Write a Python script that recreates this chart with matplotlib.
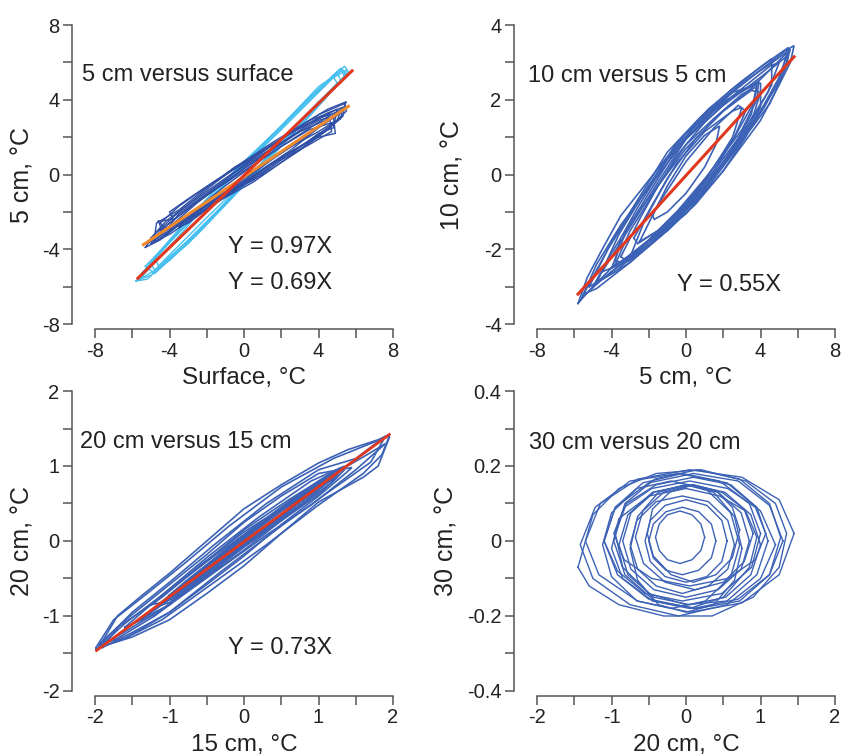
import matplotlib
matplotlib.use("Agg")
import matplotlib.pyplot as plt
from matplotlib.ticker import MultipleLocator, FuncFormatter

plt.rcParams["font.family"] = ["Liberation Sans", "DejaVu Sans"]
plt.rcParams["axes.unicode_minus"] = False

# ---- data (loop vertices, deg C) ----
# panel a: 5 cm versus surface
loops_5_surf_light = [
    [(-5.8, -5.7), (-4.5, -4.2), (-2.0, -1.5), (0.0, 0.5), (2.0, 2.4), (4.0, 4.4), (5.4, 5.8),
     (5.6, 5.5), (4.5, 4.3), (2.5, 2.2), (0.5, 0.0), (-1.5, -2.0), (-3.5, -4.0), (-5.2, -5.6)],
    [(-5.5, -5.3), (-4.0, -3.5), (-2.0, -1.3), (0.0, 0.7), (2.0, 2.6), (4.0, 4.7), (5.3, 5.6),
     (5.5, 5.3), (4.0, 3.9), (2.0, 1.8), (0.0, -0.4), (-2.0, -2.6), (-4.0, -4.6), (-5.4, -5.5)],
    [(-5.0, -4.8), (-3.0, -2.4), (-1.0, -0.3), (1.0, 1.6), (3.0, 3.6), (5.0, 5.5),
     (5.2, 5.0), (3.5, 3.1), (1.5, 1.0), (-0.5, -1.0), (-2.5, -3.1), (-4.8, -5.1)],
    [(-4.8, -4.4), (-2.5, -1.9), (0.0, 0.4), (2.5, 3.0), (4.8, 5.2),
     (5.0, 4.9), (2.8, 2.6), (0.5, 0.1), (-2.0, -2.3), (-4.6, -4.9)],
    [(-5.6, -5.6), (-3.5, -3.3), (-1.5, -1.0), (0.5, 1.0), (2.5, 3.1), (4.5, 5.0), (5.5, 5.6),
     (5.3, 5.1), (3.0, 2.6), (1.0, 0.5), (-1.0, -1.6), (-3.0, -3.7), (-5.0, -5.4)],
    [(-5.3, -4.9), (-3.0, -2.6), (-0.5, 0.1), (1.5, 2.1), (3.5, 4.1), (5.2, 5.7),
     (5.4, 5.2), (3.8, 3.5), (1.8, 1.3), (-0.2, -0.8), (-2.5, -3.2), (-4.8, -5.3)],
]
loops_5_surf_dark = [
    [(-5.3, -3.9), (-4.8, -3.2), (-3.5, -2.0), (-2.0, -0.9), (0.0, 0.5), (2.0, 1.9), (4.0, 3.2),
     (5.4, 3.8), (5.5, 3.4), (4.5, 2.4), (3.0, 1.3), (1.0, 0.0), (-1.0, -1.0), (-3.0, -2.3), (-4.5, -3.5)],
    [(-4.6, -2.5), (-3.8, -2.4), (-4.0, -2.0), (-3.0, -1.3), (-1.5, -0.3), (0.0, 0.6), (1.5, 1.6),
     (3.0, 2.5), (4.5, 3.3), (5.3, 3.6), (5.2, 3.0), (4.2, 2.2), (2.5, 1.0), (0.5, -0.4),
     (-1.5, -1.5), (-3.0, -2.4), (-4.4, -3.0)],
    [(-5.0, -3.7), (-4.0, -2.8), (-2.5, -1.5), (-1.0, -0.4), (0.5, 0.7), (2.0, 1.7), (3.5, 2.7),
     (5.0, 3.5), (4.8, 2.5), (4.0, 2.2), (2.5, 1.1), (0.8, 0.0), (-1.0, -1.2), (-2.5, -2.2), (-4.0, -3.2)],
    [(-4.5, -3.0), (-3.0, -1.8), (-1.5, -0.7), (0.0, 0.3), (1.5, 1.3), (3.0, 2.3), (4.6, 3.0),
     (4.7, 2.3), (3.5, 1.6), (2.0, 0.8), (0.5, -0.3), (-1.0, -1.1), (-2.5, -2.0), (-4.2, -3.2)],
    [(-5.2, -3.7), (-4.0, -2.6), (-2.0, -1.1), (0.0, 0.2), (2.0, 1.5), (4.0, 2.8), (5.4, 3.6),
     (5.3, 3.1), (4.0, 2.3), (2.0, 1.2), (0.0, -0.2), (-2.0, -1.6), (-4.0, -3.0)],
    [(-3.5, -2.8), (-2.5, -1.8), (-1.0, -0.6), (0.5, 0.5), (2.0, 1.5), (3.5, 2.4), (4.8, 2.8),
     (4.5, 2.4), (3.0, 1.5), (1.5, 0.6), (0.0, -0.5), (-1.5, -1.5), (-3.0, -2.6)],
    [(-4.5, -2.6), (-3.5, -1.7), (-2.5, -1.0), (-1.0, 0.0), (0.5, 0.9), (2.0, 1.9), (3.5, 2.9),
     (4.6, 3.3), (4.4, 2.8), (3.0, 1.8), (1.5, 0.8), (0.0, -0.3), (-1.5, -1.3), (-3.0, -2.2), (-4.2, -2.9)],
    [(-5.0, -3.4), (-4.2, -2.5), (-3.0, -1.6), (-1.5, -0.4), (0.0, 0.7), (1.5, 1.7), (3.0, 2.6),
     (4.5, 3.5), (5.5, 3.9), (5.2, 3.3), (4.0, 2.5), (2.5, 1.3), (1.0, 0.3), (-0.5, -0.8),
     (-2.0, -1.8), (-3.5, -2.7), (-4.8, -3.6)],
    [(-4.2, -3.0), (-3.5, -2.1), (-2.0, -1.0), (-0.5, 0.1), (1.0, 1.1), (2.5, 2.0), (4.0, 2.9),
     (4.8, 3.1), (4.9, 2.2), (4.0, 2.0), (2.8, 1.4), (1.2, 0.4), (-0.5, -0.7), (-2.0, -1.8), (-3.4, -2.7)],
    [(-4.8, -3.3), (-4.7, -2.6), (-3.5, -1.9), (-2.0, -0.7), (-0.5, 0.4), (1.0, 1.3), (2.5, 2.2),
     (4.0, 3.0), (5.2, 3.4), (5.0, 2.9), (3.8, 2.0), (2.2, 1.0), (0.5, -0.1), (-1.0, -1.0),
     (-2.8, -2.1), (-4.0, -2.9)],
]
fit_5_surf_steep_x = [-5.7, 5.8]
fit_5_surf_steep_y = [-5.55, 5.55]
fit_5_surf_flat_x = [-5.4, 5.6]
fit_5_surf_flat_y = [-3.75, 3.65]

# panel b: 10 cm versus 5 cm
loops_10_5 = [
    [(-5.8, -3.45), (-5.3, -2.75), (-4.5, -2.0), (-3.5, -1.1), (-2.0, -0.15), (0.0, 1.1), (2.0, 2.0),
     (4.0, 2.8), (5.3, 3.3), (5.8, 3.45), (5.6, 3.0), (5.0, 2.4), (4.0, 1.45), (2.0, 0.1), (0.0, -1.05),
     (-2.0, -1.8), (-4.0, -2.5), (-5.2, -3.1)],
    [(-5.6, -3.3), (-4.8, -2.4), (-3.5, -1.35), (-2.0, -0.35), (0.0, 0.95), (2.0, 1.85), (4.0, 2.6),
     (5.5, 3.2), (5.4, 2.9), (4.5, 1.9), (3.0, 0.9), (1.0, -0.3), (-1.0, -1.3), (-3.0, -2.2), (-4.5, -2.8)],
    [(-5.0, -3.0), (-4.0, -2.1), (-3.0, -1.3), (-1.5, -0.3), (0.0, 0.7), (2.0, 1.7), (3.5, 2.3),
     (5.5, 3.3), (5.0, 2.6), (4.0, 1.7), (2.5, 0.6), (0.5, -0.7), (-1.5, -1.6), (-3.5, -2.4)],
    [(-3.8, -2.3), (-3.5, -1.7), (-2.5, -0.8), (-1.0, 0.4), (0.5, 1.3), (2.0, 1.95), (3.5, 2.35),
     (4.0, 2.45), (4.0, 1.8), (3.2, 1.0), (2.0, 0.1), (0.5, -0.8), (-1.0, -1.5), (-2.5, -2.05), (-3.5, -2.35)],
    [(-3.5, -2.2), (-2.5, -1.2), (-1.5, -0.3), (0.0, 0.8), (1.5, 1.5), (3.0, 2.15), (3.8, 2.35),
     (3.5, 1.6), (2.5, 0.7), (1.0, -0.4), (-0.5, -1.2), (-2.0, -1.9), (-3.2, -2.3)],
    [(-2.8, -1.7), (-1.8, -0.8), (-0.5, 0.3), (1.0, 1.15), (2.5, 1.7), (3.0, 1.8),
     (2.5, 1.0), (1.5, 0.2), (0.0, -0.8), (-1.5, -1.5), (-2.6, -1.85)],
    [(-1.8, -1.1), (-1.0, -0.3), (0.0, 0.5), (1.0, 1.05), (1.8, 1.3),
     (1.6, 0.8), (1.0, 0.2), (0.0, -0.5), (-1.0, -1.0), (-1.7, -1.2)],
    [(-4.5, -2.6), (-3.0, -1.4), (-1.5, -0.2), (0.0, 0.95), (1.5, 1.7), (3.0, 2.3), (4.5, 2.9),
     (5.0, 3.0), (4.4, 2.2), (3.0, 1.1), (1.5, 0.1), (0.0, -0.85), (-1.5, -1.7), (-3.0, -2.3)],
    [(-3.8, -2.4), (-3.0, -1.5), (-2.0, -0.7), (-0.5, 0.5), (1.0, 1.4), (2.5, 2.1), (3.9, 2.5),
     (3.8, 2.0), (3.0, 1.2), (1.5, 0.2), (0.0, -0.8), (-1.5, -1.7), (-3.0, -2.25)],
    [(-5.5, -3.2), (-4.2, -2.0), (-2.8, -0.9), (-1.0, 0.45), (1.0, 1.6), (3.0, 2.45), (4.5, 2.95),
     (5.6, 3.35), (5.2, 2.7), (4.2, 1.8), (2.8, 0.75), (1.0, -0.45), (-1.0, -1.5), (-3.0, -2.35), (-4.8, -3.05)],
    [(-4.0, -2.5), (-3.2, -1.5), (-2.0, -0.5), (-0.5, 0.7), (1.0, 1.5), (2.5, 2.2), (3.8, 2.4),
     (3.6, 1.9), (2.6, 1.0), (1.2, 0.0), (-0.5, -1.0), (-2.0, -1.75), (-3.4, -2.3)],
    [(-3.0, -2.2), (-2.2, -1.2), (-1.0, -0.1), (0.5, 0.95), (2.0, 1.7), (3.5, 2.25), (4.0, 2.2),
     (3.5, 1.4), (2.2, 0.45), (0.8, -0.5), (-0.8, -1.4), (-2.2, -2.0)],
    [(-5.2, -3.0), (-4.0, -1.8), (-2.5, -0.6), (-1.0, 0.6), (0.8, 1.55), (2.5, 2.3), (4.2, 2.95),
     (5.5, 3.4), (5.0, 2.5), (3.6, 1.35), (2.0, 0.3), (0.2, -0.8), (-1.8, -1.7), (-3.8, -2.6)],
    [(-2.5, -1.8), (-1.5, -0.8), (0.0, 0.35), (1.5, 1.25), (2.8, 1.85),
     (3.2, 1.7), (2.6, 1.0), (1.5, 0.1), (0.0, -0.75), (-1.5, -1.5)],
    [(-4.8, -2.9), (-3.6, -1.6), (-2.2, -0.45), (-0.5, 0.85), (1.2, 1.75), (3.0, 2.5), (4.6, 3.1),
     (4.6, 2.4), (3.5, 1.4), (2.0, 0.35), (0.5, -0.6), (-1.2, -1.5), (-3.0, -2.35)],
]
fit_10_5_x = [-5.8, 5.8]
fit_10_5_y = [-3.2, 3.15]

# panel c: 20 cm versus 15 cm
loops_20_15 = [
    [(-1.95, -1.42), (-1.7, -1.0), (-1.4, -0.75), (-1.0, -0.43), (-0.5, 0.0), (0.0, 0.43), (0.5, 0.75),
     (1.0, 1.04), (1.4, 1.22), (1.8, 1.35), (1.95, 1.42), (1.95, 1.38), (1.8, 1.0), (1.6, 0.85),
     (1.0, 0.52), (0.5, 0.1), (0.0, -0.33), (-0.5, -0.7), (-1.0, -1.05), (-1.5, -1.28)],
    [(-1.9, -1.42), (-1.65, -1.1), (-1.0, -0.58), (-0.5, -0.18), (0.0, 0.25), (0.5, 0.6), (1.0, 0.9),
     (1.45, 0.98), (1.3, 0.85), (1.0, 0.6), (0.5, 0.22), (0.0, -0.2), (-0.5, -0.58), (-1.0, -0.95), (-1.5, -1.22)],
    [(-1.95, -1.38), (-1.7, -1.15), (-1.2, -0.82), (-0.6, -0.35), (0.0, 0.15), (0.6, 0.55), (1.2, 0.92),
     (1.35, 0.95), (1.2, 0.8), (0.6, 0.35), (0.0, -0.12), (-0.6, -0.55), (-1.2, -1.0), (-1.7, -1.3)],
    [(-1.25, -0.85), (-1.1, -0.75), (-0.6, -0.33), (0.0, 0.12), (0.6, 0.5), (1.05, 0.82), (1.2, 0.9),
     (1.25, 0.85), (1.0, 0.62), (0.5, 0.27), (0.0, -0.08), (-0.6, -0.52), (-1.1, -0.82)],
    [(-1.4, -1.05), (-1.0, -0.78), (-0.5, -0.38), (0.0, 0.02), (0.5, 0.4), (1.0, 0.72), (1.25, 0.85),
     (1.1, 0.72), (0.5, 0.3), (0.0, -0.05), (-0.5, -0.45), (-1.0, -0.85)],
    [(-1.1, -0.85), (-0.5, -0.32), (0.0, 0.08), (0.5, 0.45), (1.1, 0.85), (1.2, 0.9),
     (1.0, 0.7), (0.5, 0.33), (0.0, -0.04), (-0.5, -0.42), (-1.0, -0.82)],
    [(-1.0, -0.75), (-0.5, -0.35), (0.0, 0.03), (0.5, 0.4), (1.0, 0.76),
     (0.9, 0.66), (0.5, 0.34), (0.0, -0.02), (-0.5, -0.4), (-0.9, -0.7)],
    [(-1.0, -0.72), (-0.6, -0.4), (0.0, 0.05), (0.6, 0.47), (1.1, 0.83),
     (1.0, 0.75), (0.6, 0.42), (0.0, 0.0), (-0.6, -0.46), (-0.95, -0.72)],
    [(-0.8, -0.6), (-0.3, -0.2), (0.2, 0.19), (0.7, 0.55), (0.95, 0.72),
     (0.7, 0.5), (0.2, 0.13), (-0.3, -0.26), (-0.75, -0.6)],
    [(-1.3, -0.98), (-0.8, -0.55), (-0.2, -0.08), (0.4, 0.37), (1.0, 0.8), (1.3, 0.98),
     (1.2, 0.85), (0.6, 0.42), (0.0, -0.02), (-0.6, -0.48), (-1.2, -0.92)],
    [(-2.0, -1.44), (-1.75, -1.05), (-1.3, -0.7), (-0.8, -0.3), (-0.2, 0.2), (0.5, 0.72), (1.2, 1.1),
     (1.7, 1.3), (1.95, 1.4), (1.85, 1.15), (1.6, 0.9), (1.0, 0.48), (0.3, -0.05), (-0.4, -0.55),
     (-1.1, -1.05), (-1.6, -1.3)],
    [(-1.9, -1.35), (-1.5, -0.95), (-1.0, -0.55), (-0.4, -0.05), (0.3, 0.5), (1.0, 0.95), (1.5, 1.1),
     (1.9, 1.4), (1.7, 1.05), (1.2, 0.7), (0.5, 0.2), (-0.3, -0.4), (-1.0, -0.95), (-1.6, -1.3)],
    [(-1.2, -0.9), (-0.7, -0.48), (0.0, 0.08), (0.7, 0.6), (1.2, 0.9),
     (1.1, 0.78), (0.6, 0.4), (0.0, -0.06), (-0.7, -0.6)],
    [(-1.05, -0.78), (-0.4, -0.26), (0.3, 0.28), (0.9, 0.7), (1.15, 0.88),
     (1.0, 0.72), (0.4, 0.24), (-0.3, -0.3), (-0.95, -0.78)],
    [(-0.9, -0.66), (-0.2, -0.1), (0.5, 0.42), (1.05, 0.8),
     (0.95, 0.7), (0.4, 0.28), (-0.3, -0.24), (-0.85, -0.66)],
    [(-1.6, -1.15), (-1.1, -0.72), (-0.5, -0.22), (0.2, 0.32), (0.9, 0.8), (1.35, 1.0),
     (1.25, 0.88), (0.8, 0.52), (0.1, 0.0), (-0.6, -0.55), (-1.2, -0.98)],
    [(-1.95, -1.42), (-1.55, -1.18), (-1.0, -0.85), (-0.4, -0.42), (0.3, 0.08), (0.9, 0.48), (1.5, 0.95),
     (1.9, 1.3), (1.6, 1.12), (1.0, 0.78), (0.3, 0.3), (-0.4, -0.2), (-1.1, -0.72), (-1.6, -1.1)],
]
fit_20_15_x = [-1.98, 1.95]
fit_20_15_y = [-1.46, 1.42]

# panel d: 30 cm versus 20 cm
loops_30_20 = [
    [(1.45, 0.02), (1.25, 0.11), (0.75, 0.17), (0.05, 0.19), (-0.65, 0.165), (-1.15, 0.10),
     (-1.35, 0.0), (-1.17, -0.09), (-0.65, -0.16), (0.05, -0.19), (0.75, -0.165), (1.25, -0.09)],
    [(1.2, -0.01), (1.0, 0.08), (0.55, 0.155), (-0.1, 0.18), (-0.75, 0.16), (-1.22, 0.09),
     (-1.42, -0.01), (-1.25, -0.10), (-0.75, -0.17), (-0.1, -0.20), (0.55, -0.17), (1.0, -0.10)],
    [(1.3, 0.0), (1.12, 0.095), (0.7, 0.16), (0.1, 0.18), (-0.5, 0.155), (-0.95, 0.09),
     (-1.1, 0.0), (-0.92, -0.09), (-0.5, -0.155), (0.1, -0.18), (0.7, -0.155), (1.12, -0.09)],
    [(1.0, 0.02), (0.85, 0.10), (0.45, 0.16), (-0.05, 0.18), (-0.58, 0.155), (-0.95, 0.09),
     (-1.1, 0.0), (-0.92, -0.08), (-0.55, -0.14), (-0.05, -0.16), (0.48, -0.14), (0.88, -0.07)],
    [(1.0, -0.01), (0.87, 0.07), (0.52, 0.13), (0.05, 0.15), (-0.45, 0.13), (-0.78, 0.07),
     (-0.9, -0.01), (-0.78, -0.09), (-0.43, -0.15), (0.05, -0.17), (0.53, -0.15), (0.87, -0.09)],
    [(0.85, 0.0), (0.74, 0.075), (0.43, 0.13), (0.0, 0.15), (-0.43, 0.13), (-0.74, 0.075),
     (-0.85, 0.0), (-0.74, -0.075), (-0.43, -0.13), (0.0, -0.15), (0.43, -0.13), (0.74, -0.075)],
    [(0.9, 0.02), (0.78, 0.085), (0.48, 0.13), (0.08, 0.15), (-0.3, 0.13), (-0.58, 0.08),
     (-0.68, 0.01), (-0.57, -0.06), (-0.28, -0.11), (0.12, -0.13), (0.5, -0.11), (0.78, -0.055)],
    [(0.65, -0.01), (0.56, 0.055), (0.3, 0.105), (-0.05, 0.12), (-0.4, 0.105), (-0.66, 0.055),
     (-0.75, -0.01), (-0.65, -0.075), (-0.4, -0.12), (-0.05, -0.14), (0.3, -0.12), (0.56, -0.075)],
    [(0.72, 0.03), (0.62, 0.09), (0.4, 0.135), (0.1, 0.15), (-0.22, 0.13), (-0.45, 0.085),
     (-0.52, 0.02), (-0.44, -0.04), (-0.2, -0.09), (0.1, -0.11), (0.4, -0.09), (0.62, -0.045)],
    [(0.55, 0.0), (0.48, 0.055), (0.28, 0.095), (0.0, 0.11), (-0.28, 0.095), (-0.48, 0.055),
     (-0.55, 0.0), (-0.48, -0.055), (-0.28, -0.095), (0.0, -0.11), (0.28, -0.095), (0.48, -0.055)],
    [(0.4, 0.0), (0.34, 0.045), (0.17, 0.078), (-0.05, 0.09), (-0.27, 0.078), (-0.44, 0.045),
     (-0.5, 0.0), (-0.44, -0.045), (-0.27, -0.078), (-0.05, -0.09), (0.17, -0.078), (0.34, -0.045)],
    [(0.25, 0.01), (0.2, 0.045), (0.08, 0.07), (-0.08, 0.08), (-0.25, 0.07), (-0.36, 0.045),
     (-0.41, 0.01), (-0.36, -0.025), (-0.25, -0.05), (-0.08, -0.06), (0.08, -0.05), (0.2, -0.025)],
    [(1.27, 0.01), (1.12, 0.1), (0.72, 0.165), (0.15, 0.19), (-0.42, 0.165), (-0.82, 0.1),
     (-0.97, 0.0), (-0.82, -0.09), (-0.42, -0.16), (0.15, -0.18), (0.72, -0.16), (1.12, -0.09)],
    [(0.72, -0.01), (0.6, 0.075), (0.26, 0.14), (-0.2, 0.16), (-0.66, 0.14), (-1.0, 0.075),
     (-1.12, -0.01), (-1.0, -0.095), (-0.66, -0.16), (-0.2, -0.18), (0.26, -0.16), (0.6, -0.095)],
    [(1.07, 0.02), (0.93, 0.09), (0.56, 0.14), (0.05, 0.16), (-0.46, 0.14), (-0.83, 0.09),
     (-0.97, 0.02), (-0.83, -0.05), (-0.46, -0.1), (0.05, -0.12), (0.56, -0.1), (0.93, -0.05)],
    [(0.75, -0.02), (0.65, 0.065), (0.37, 0.13), (0.0, 0.15), (-0.37, 0.13), (-0.65, 0.065),
     (-0.75, -0.02), (-0.65, -0.105), (-0.37, -0.17), (0.0, -0.19), (0.37, -0.17), (0.65, -0.105)],
    [(-1.45, -0.07), (-1.3, -0.12), (-0.9, -0.17), (-0.3, -0.2), (0.35, -0.2), (0.9, -0.15),
     (1.25, -0.07), (1.35, 0.02), (1.2, 0.1), (0.8, 0.16), (0.2, 0.19), (-0.4, 0.18),
     (-0.9, 0.14), (-1.25, 0.07)],
    [(1.1, 0.0), (0.95, 0.09), (0.6, 0.15), (0.1, 0.17), (-0.4, 0.15), (-0.8, 0.1),
     (-0.95, 0.02), (-0.85, -0.07), (-0.5, -0.14), (0.0, -0.17), (0.55, -0.16), (0.95, -0.09)],
    [(0.95, 0.01), (0.8, 0.08), (0.45, 0.12), (0.0, 0.14), (-0.5, 0.12), (-0.9, 0.06),
     (-1.0, -0.02), (-0.85, -0.1), (-0.45, -0.16), (0.05, -0.18), (0.5, -0.15), (0.85, -0.07)],
]

panel_titles = ["5 cm versus surface", "10 cm versus 5 cm", "20 cm versus 15 cm", "30 cm versus 20 cm"]
x_labels = ["Surface, \u00b0C", "5 cm, \u00b0C", "15 cm, \u00b0C", "20 cm, \u00b0C"]
y_labels = ["5 cm, \u00b0C", "10 cm, \u00b0C", "20 cm, \u00b0C", "30 cm, \u00b0C"]
eq_labels = [["Y = 0.97X", "Y = 0.69X"], ["Y = 0.55X"], ["Y = 0.73X"], []]

BLUE = "#3c62b6"
DARK = "#2f4fa6"
CYAN = "#45bff0"
RED = "#e0381f"
ORANGE = "#f0892c"
AXC = "#555555"
TXT = "#222222"


def draw_loops(ax, loops, color, lw=0.8, alpha=1.0):
    for loop in loops:
        pts = list(loop) + [loop[0]]
        xs = [p[0] for p in pts]
        ys = [p[1] for p in pts]
        ax.plot(xs, ys, color=color, lw=lw, alpha=alpha, solid_joinstyle="miter")


def style_axis(ax, lim_x, lim_y, major_x, major_y):
    ax.set_xlim(*lim_x)
    ax.set_ylim(*lim_y)
    for side in ("top", "right"):
        ax.spines[side].set_visible(False)
    ax.spines["left"].set_position(("outward", 16.5))
    ax.spines["bottom"].set_position(("outward", 3.6))
    for side in ("left", "bottom"):
        ax.spines[side].set_color(AXC)
        ax.spines[side].set_linewidth(1.1)
    ax.xaxis.set_major_locator(MultipleLocator(major_x))
    ax.xaxis.set_minor_locator(MultipleLocator(major_x / 2))
    ax.yaxis.set_major_locator(MultipleLocator(major_y))
    ax.yaxis.set_minor_locator(MultipleLocator(major_y / 2))
    fmt = FuncFormatter(lambda v, _: f"{v:g}")
    ax.xaxis.set_major_formatter(fmt)
    ax.yaxis.set_major_formatter(fmt)
    ax.tick_params(which="both", direction="out", length=6.5, width=1.1, color=AXC,
                   labelsize=14.5, labelcolor=TXT, pad=2.5)
    ax.set_facecolor("none")


fig = plt.figure(figsize=(8.44, 7.56), dpi=100)
positions = [
    [0.1126, 0.5714, 0.3531, 0.3955],
    [0.6363, 0.5714, 0.3531, 0.3955],
    [0.1126, 0.0860, 0.3531, 0.3968],
    [0.6363, 0.0860, 0.3531, 0.3968],
]
axes = [fig.add_axes(p) for p in positions]

# panel a
ax = axes[0]
draw_loops(ax, loops_5_surf_light, CYAN, lw=1.0)
draw_loops(ax, loops_5_surf_dark, DARK, lw=1.0)
ax.plot(fit_5_surf_flat_x, fit_5_surf_flat_y, color=ORANGE, lw=2.2)
ax.plot(fit_5_surf_steep_x, fit_5_surf_steep_y, color=RED, lw=2.2)
style_axis(ax, (-8, 8), (-8, 8), 4, 4)
ax.text(-8.7, 5.3, panel_titles[0], fontsize=17, va="center", ha="left", color=TXT)
ax.text(-0.86, -3.87, eq_labels[0][0], fontsize=17, va="center", ha="left", color=TXT)
ax.text(-0.86, -5.8, eq_labels[0][1], fontsize=17, va="center", ha="left", color=TXT)

# panel b
ax = axes[1]
draw_loops(ax, loops_10_5, BLUE, lw=1.2)
ax.plot(fit_10_5_x, fit_10_5_y, color=RED, lw=2.2)
style_axis(ax, (-8, 8), (-4, 4), 4, 2)
ax.text(-8.48, 2.64, panel_titles[1], fontsize=17, va="center", ha="left", color=TXT)
ax.text(-0.49, -2.95, eq_labels[1][0], fontsize=17, va="center", ha="left", color=TXT)

# panel c
ax = axes[2]
draw_loops(ax, loops_20_15, BLUE, lw=1.2)
ax.plot(fit_20_15_x, fit_20_15_y, color=RED, lw=2.0)
style_axis(ax, (-2, 2), (-2, 2), 1, 1)
ax.text(-2.2, 1.32, panel_titles[2], fontsize=17, va="center", ha="left", color=TXT)
ax.text(-0.21, -1.43, eq_labels[2][0], fontsize=17, va="center", ha="left", color=TXT)

# panel d
ax = axes[3]
draw_loops(ax, loops_30_20, BLUE, lw=1.0)
style_axis(ax, (-2, 2), (-0.4, 0.4), 1, 0.2)
ax.text(-2.11, 0.26, panel_titles[3], fontsize=17, va="center", ha="left", color=TXT)

ylabel_x = [-0.242, -0.284, -0.243, -0.305]
for i, ax in enumerate(axes):
    ax.set_xlabel(x_labels[i], fontsize=17.5, color=TXT)
    ax.set_ylabel(y_labels[i], fontsize=18, color=TXT)
    ax.xaxis.set_label_coords(0.5, -0.2)
    ax.xaxis.label.set_va("baseline")
    ax.yaxis.set_label_coords(ylabel_x[i], 0.5)
    ax.yaxis.label.set_va("center")

fig.savefig("out.png", dpi=100, facecolor="white")
